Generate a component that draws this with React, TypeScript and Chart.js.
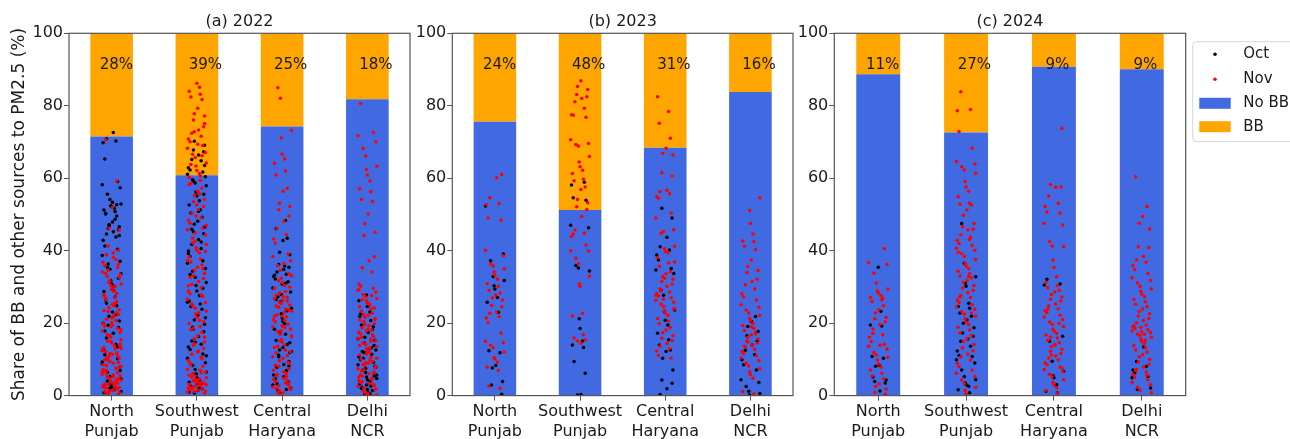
import React, { useEffect, useRef } from 'react';
import { Chart, registerables } from 'chart.js';

Chart.register(...registerables);

// ---------------- DATA ----------------
const regions = [['North', 'Punjab'], ['Southwest', 'Punjab'], ['Central', 'Haryana'], ['Delhi', 'NCR']];
const panelTitles = ['(a) 2022', '(b) 2023', '(c) 2024'];
const yTickValues = [0, 20, 40, 60, 80, 100];

const noBB2022 = [71.5, 60.8, 74.3, 81.8];
const bb2022 = [28.5, 39.2, 25.7, 18.2];
const noBB2023 = [75.6, 51.2, 68.4, 83.8];
const bb2023 = [24.4, 48.8, 31.6, 16.2];
const noBB2024 = [88.7, 72.6, 90.8, 90.1];
const bb2024 = [11.3, 27.4, 9.2, 9.9];

const bbLabels2022 = ['28%', '39%', '25%', '18%'];
const bbLabels2023 = ['24%', '48%', '31%', '16%'];
const bbLabels2024 = ['11%', '27%', '9%', '9%'];

// daily shares (%) per region: [North Punjab, Southwest Punjab, Central Haryana, Delhi NCR]
const oct2022 = [
  [72.6, 70.9, 70.3, 69.8, 65.3, 59.1, 58.2, 57.4, 55.6, 54.1, 52.9, 52.4, 52.1, 51.7, 51.2, 50.8, 50.3, 49.6, 47.9, 47.2, 46.6, 46.1, 45.8, 45.2, 44.6, 43.8, 42.9, 41.3, 40.4, 38.7, 37.1, 35.4, 34.9, 33.6, 31.8, 30.9, 30.2, 28.7, 27.2, 26.4, 24.8, 23.1, 21.9, 20.6, 19.4, 18.8, 17.2, 15.9, 14.1, 12.8, 11.3, 10.2, 8.7, 7.9, 6.4, 5.3, 4.6, 3.1, 2.4, 1.6, 0.8, 48.7, 50.1, 52.7, 53.4, 46.9, 44.2, 36.3, 32.4, 29.1, 25.5, 22.3, 20.0, 17.8, 13.5, 9.3, 6.9, 4.0, 2.0, 1.1],
  [70.2, 69.1, 67.8, 67.3, 66.4, 65.2, 64.8, 62.9, 62.3, 61.7, 61.1, 60.4, 59.6, 58.7, 57.9, 56.2, 55.1, 53.8, 52.6, 51.3, 50.4, 49.2, 48.1, 47.3, 46.5, 45.2, 44.7, 43.1, 41.8, 40.6, 39.9, 38.4, 37.2, 36.5, 35.1, 34.3, 32.7, 31.2, 30.4, 28.9, 27.6, 26.1, 25.3, 24.6, 23.8, 22.2, 20.9, 19.7, 18.4, 17.6, 16.3, 15.1, 14.2, 13.4, 12.7, 11.5, 10.3, 9.1, 8.4, 7.2, 6.5, 5.8, 4.9, 4.3, 3.7, 3.1, 2.6, 1.9, 1.4, 0.7, 63.5, 59.2, 55.6, 50.9, 45.9, 42.4, 39.2, 33.4, 29.6, 25.8, 21.5, 18.9, 14.7, 11.0, 6.0, 3.4, 2.2, 1.0],
  [48.3, 46.1, 43.4, 42.8, 39.6, 38.9, 36.2, 35.4, 34.8, 34.1, 33.5, 32.9, 32.2, 31.4, 29.7, 28.6, 27.3, 25.9, 24.1, 22.6, 21.4, 19.8, 18.3, 16.9, 15.2, 14.1, 13.3, 12.6, 11.9, 10.7, 9.4, 8.6, 7.8, 6.9, 5.7, 4.6, 3.8, 2.9, 2.1, 1.4, 0.6, 12.2, 27.9, 30.8, 35.8, 33.2, 31.0, 26.5, 23.4, 20.5, 17.5, 14.6, 11.2, 8.2, 5.2, 3.3, 1.7],
  [27.8, 24.6, 23.1, 21.9, 20.7, 19.5, 18.2, 17.4, 16.1, 15.3, 14.6, 13.8, 12.9, 12.2, 11.4, 10.7, 9.9, 9.2, 8.5, 7.8, 7.1, 6.4, 5.7, 5.1, 4.4, 3.8, 3.2, 2.6, 2.0, 1.4, 0.8, 0.3, 8.1, 11.9, 5.4, 3.5, 2.3, 13.2, 26.2, 22.5, 19.0, 15.7, 12.6, 10.3, 7.5, 4.7, 2.9, 1.7, 0.5],
];
const nov2022 = [
  [70.6, 59.2, 51.9, 46.2, 45.7, 41.3, 40.1, 39.4, 38.9, 37.6, 36.8, 35.9, 35.3, 34.1, 33.4, 32.9, 31.7, 30.8, 30.4, 29.3, 28.8, 27.6, 27.1, 26.5, 25.9, 25.2, 24.3, 23.7, 23.2, 22.4, 21.8, 21.1, 20.7, 19.8, 19.2, 18.6, 17.9, 17.5, 16.8, 16.3, 15.4, 14.9, 14.6, 13.9, 13.3, 12.9, 12.1, 11.8, 11.4, 10.8, 10.3, 9.7, 9.2, 8.9, 8.3, 7.6, 7.2, 6.8, 6.3, 5.9, 5.5, 5.1, 4.8, 4.3, 3.9, 3.6, 3.2, 2.9, 2.6, 2.2, 1.9, 1.5, 1.2, 0.9, 0.6, 0.3, 5.7, 6.9, 4.1, 2.7, 1.1, 3.4, 12.4, 14.2, 10.6, 9.4, 8.1, 16.1, 21.4, 24.8, 27.9, 30.1, 33.8, 22.9, 19.5, 1.4, 2.3, 3.0, 4.5, 5.2, 6.0, 7.4, 8.6, 9.9, 11.0, 12.6, 13.6, 15.1, 16.6, 18.2, 19.0, 20.1, 22.0, 23.5, 25.5, 26.9, 28.2, 29.7, 31.2, 32.5, 34.6, 36.2, 38.1, 0.7, 1.8, 2.4, 3.1, 4.6, 6.6, 7.9, 10.1, 11.6, 13.0],
  [86.2, 85.1, 84.0, 83.2, 82.4, 81.7, 79.3, 77.8, 77.2, 76.1, 74.2, 73.3, 72.4, 71.6, 70.8, 70.1, 69.0, 68.3, 67.1, 66.6, 65.7, 64.2, 63.4, 62.1, 61.3, 60.2, 59.4, 58.6, 57.3, 56.4, 55.2, 54.1, 53.5, 52.2, 51.4, 50.3, 49.1, 48.4, 47.6, 46.2, 45.8, 44.3, 43.5, 42.6, 41.7, 40.9, 40.1, 39.4, 38.3, 37.7, 36.9, 36.1, 35.4, 34.6, 33.8, 33.1, 32.3, 31.5, 30.7, 29.8, 28.9, 28.1, 27.4, 26.6, 25.7, 24.9, 24.1, 23.3, 22.5, 21.6, 20.8, 19.9, 19.1, 18.2, 17.4, 16.5, 15.7, 14.8, 13.9, 13.1, 12.3, 11.4, 10.6, 9.7, 8.9, 8.1, 7.3, 6.6, 6.1, 5.4, 4.9, 4.4, 3.9, 3.5, 3.1, 2.7, 2.3, 1.9, 1.5, 1.1, 0.7, 4.2, 3.3, 2.9, 5.1, 6.3, 2.1, 1.7, 3.7, 0.9, 1.3, 2.0, 2.5, 3.0, 3.6, 4.1, 4.6, 5.6, 7.0, 8.5, 10.2, 12.0, 14.4, 16.1, 18.6, 20.4, 22.9, 25.3, 27.8, 30.3, 32.7, 35.0, 37.3, 39.8, 42.2, 44.9, 47.0, 49.6, 52.7, 55.7, 58.2, 60.7, 63.8, 66.2, 69.4, 72.8, 75.1],
  [85.0, 82.1, 73.2, 71.1, 66.6, 65.3, 64.1, 62.0, 60.9, 57.2, 56.4, 53.1, 52.2, 51.3, 49.6, 48.1, 46.2, 44.4, 43.2, 42.1, 39.1, 38.4, 37.2, 35.9, 34.6, 33.1, 32.4, 31.2, 30.3, 29.6, 28.7, 27.8, 27.1, 26.4, 25.7, 25.0, 24.4, 23.6, 22.9, 22.3, 21.7, 21.0, 20.4, 19.7, 19.0, 18.3, 17.6, 16.9, 16.2, 15.5, 14.8, 14.0, 13.3, 12.5, 11.8, 11.1, 10.3, 9.6, 8.8, 8.1, 7.4, 6.6, 5.9, 5.2, 4.5, 3.8, 3.1, 2.4, 1.7, 1.0, 0.4, 23.3, 25.4, 21.9, 18.8, 26.8, 3.5, 2.0, 4.1, 0.8, 1.3, 2.2, 2.7, 3.3, 4.8, 5.5, 6.2, 7.0, 8.4, 9.2, 10.7, 12.1, 13.6, 15.1, 16.5, 17.9, 19.3, 20.7, 22.0, 23.9, 24.7, 26.1, 27.4, 28.3, 29.9, 31.7, 33.6, 36.4],
  [80.6, 72.6, 71.7, 70.1, 68.2, 66.1, 63.3, 62.4, 60.9, 59.2, 57.1, 56.3, 54.1, 53.6, 50.1, 47.4, 45.1, 44.2, 38.3, 37.2, 35.3, 34.1, 30.8, 30.2, 29.6, 29.1, 28.5, 27.9, 27.3, 26.8, 26.2, 25.6, 25.0, 24.5, 23.9, 23.3, 22.7, 22.2, 21.6, 21.0, 20.4, 19.8, 19.3, 18.7, 18.1, 17.5, 17.0, 16.4, 15.8, 15.2, 14.6, 14.1, 13.5, 12.9, 12.3, 11.8, 11.2, 10.6, 10.0, 9.4, 8.9, 8.3, 7.7, 7.1, 6.5, 6.0, 5.4, 4.8, 4.2, 3.6, 3.1, 2.5, 1.9, 1.3, 0.7, 0.2, 17.8, 12.7, 9.7, 20.9, 15.5, 6.8, 4.6, 0.5, 1.0, 1.6, 2.2, 2.8, 3.4, 3.9, 4.5, 5.1, 5.7, 6.3, 7.4, 8.0, 8.6, 9.1, 10.3, 11.5, 12.0, 13.2, 13.8, 14.9, 16.1, 16.7, 18.4, 19.6, 21.3, 22.4, 24.2, 25.3, 26.5, 27.6, 29.3],
];
const oct2023 = [
  [52.3, 39.1, 37.2, 32.9, 31.8, 30.3, 29.4, 27.1, 25.8, 23.0, 12.4, 11.8, 8.3, 7.6, 3.9, 2.9, 0.4],
  [58.9, 58.1, 54.6, 53.9, 47.0, 46.3, 35.9, 35.2, 34.4, 21.2, 18.5, 15.1, 14.0, 13.3, 9.4, 6.2, 0.3, 0.2],
  [51.7, 49.0, 43.7, 41.1, 40.2, 38.8, 37.4, 35.1, 34.7, 33.7, 29.1, 27.7, 23.6, 23.2, 20.8, 19.5, 17.2, 15.4, 14.0, 12.6, 12.2, 10.3, 7.1, 4.3, 3.4, 1.9, 0.3],
  [21.8, 20.5, 19.1, 17.7, 16.5, 15.0, 14.0, 12.5, 11.3, 9.9, 8.5, 7.1, 4.4, 3.6, 2.5, 1.2, 0.6, 0.2],
];
const nov2023 = [
  [61.0, 60.1, 54.6, 53.0, 52.7, 49.0, 48.4, 40.1, 38.6, 36.4, 35.8, 35.0, 34.1, 33.2, 32.1, 30.9, 30.2, 29.0, 28.3, 27.8, 27.0, 26.4, 24.9, 24.5, 23.1, 22.7, 21.8, 21.4, 20.2, 17.3, 15.0, 14.6, 13.9, 13.2, 12.0, 10.5, 10.1, 9.3, 7.8, 6.9, 2.6, 2.0],
  [86.9, 85.3, 84.5, 83.1, 82.5, 82.0, 81.1, 79.3, 77.5, 77.4, 76.8, 70.6, 69.6, 69.3, 68.9, 66.0, 64.5, 63.2, 62.2, 61.3, 59.7, 59.3, 57.6, 56.9, 54.1, 53.2, 52.1, 51.4, 49.4, 45.7, 44.8, 43.9, 44.6, 41.6, 40.0, 39.9, 37.9, 36.4, 33.0, 30.9, 30.2, 22.7, 22.0, 16.8, 15.9, 15.4, 14.5, 15.1],
  [82.5, 78.4, 75.2, 71.0, 68.3, 66.9, 66.4, 61.5, 60.6, 56.7, 56.3, 55.7, 54.9, 54.5, 50.4, 49.0, 45.8, 44.8, 45.3, 41.2, 40.6, 39.8, 39.4, 38.1, 36.6, 35.7, 34.2, 33.6, 32.9, 32.1, 31.5, 30.8, 30.2, 29.4, 28.6, 28.1, 27.5, 27.0, 26.3, 25.8, 25.2, 24.6, 24.0, 23.4, 22.8, 22.1, 21.3, 20.6, 19.9, 18.8, 18.1, 17.4, 16.6, 15.8, 15.2, 14.4, 13.7, 12.9, 12.3, 11.1, 10.4, 27.8, 23.9, 28.9, 26.6, 36.9, 32.4],
  [54.6, 51.1, 47.5, 44.6, 42.7, 42.5, 41.2, 40.3, 37.4, 35.6, 34.5, 34.0, 32.1, 31.5, 30.6, 29.4, 28.1, 27.3, 26.4, 25.1, 24.4, 23.6, 22.8, 22.1, 21.3, 20.7, 19.9, 19.3, 18.6, 18.0, 17.4, 16.8, 16.2, 15.6, 15.1, 14.5, 13.9, 13.4, 12.8, 12.2, 11.6, 11.0, 10.4, 9.7, 8.9, 8.2, 7.4, 6.6, 5.8, 4.8, 1.1, 0.5, 13.6, 17.1, 19.0, 14.8],
];
const oct2024 = [
  [35.4, 23.3, 19.5, 19.2, 10.8, 10.3, 8.4, 8.1, 4.3, 3.9, 3.5, 1.3, 5.1],
  [47.5, 36.5, 32.8, 31.0, 30.2, 25.5, 24.6, 24.1, 22.8, 21.9, 20.9, 20.0, 18.7, 17.3, 16.4, 15.6, 15.0, 13.6, 12.3, 11.1, 10.8, 9.9, 9.0, 7.1, 5.3, 4.4, 3.5, 3.0, 2.6, 1.6, 0.8],
  [32.1, 30.8, 30.5, 16.4, 15.0, 9.5, 6.7, 5.5, 4.9, 3.0, 1.2, 0.7],
  [13.4, 9.4, 8.0, 7.1, 6.3, 5.3, 4.9, 2.1, 1.7],
];
const nov2024 = [
  [40.6, 36.7, 36.2, 33.8, 31.1, 29.4, 28.9, 28.3, 27.6, 27.1, 26.4, 26.0, 24.8, 23.7, 22.9, 21.6, 21.2, 20.4, 19.6, 17.2, 16.8, 16.1, 14.9, 14.2, 13.6, 12.8, 11.9, 11.3, 10.6, 9.8, 8.7, 7.9, 7.1, 6.2, 5.4, 4.6, 3.2, 2.5, 1.8, 0.9, 0.4, 13.9, 18.4, 26.9],
  [83.9, 79.0, 78.6, 72.9, 68.3, 64.6, 63.9, 63.2, 62.3, 61.4, 59.1, 57.6, 56.4, 54.9, 53.1, 52.8, 52.6, 51.2, 49.8, 47.5, 46.6, 45.9, 45.7, 44.4, 43.8, 42.9, 42.0, 41.4, 40.7, 40.1, 39.2, 38.4, 37.6, 36.5, 35.8, 35.1, 34.3, 33.6, 33.0, 32.5, 31.8, 31.2, 30.4, 29.7, 29.1, 28.4, 27.7, 27.1, 26.4, 25.8, 25.1, 24.5, 23.8, 23.2, 22.5, 21.9, 21.2, 20.4, 19.6, 18.9, 18.1, 17.3, 16.5, 15.7, 14.9, 14.1, 13.2, 12.4, 11.5, 10.7, 9.8, 8.9, 8.0, 7.1, 6.2, 5.3, 4.3, 3.3, 2.3, 1.4, 0.5, 32.9, 39.6, 43.1, 27.2, 22.8],
  [73.8, 58.3, 57.6, 57.5, 55.1, 53.1, 52.2, 50.7, 50.3, 47.5, 47.1, 42.5, 41.3, 41.1, 37.4, 35.4, 32.8, 31.2, 30.4, 29.8, 29.1, 28.6, 27.9, 27.2, 26.6, 26.1, 25.3, 24.7, 24.0, 23.4, 22.9, 22.2, 21.7, 21.0, 20.3, 19.7, 19.1, 18.4, 17.8, 17.2, 16.7, 15.9, 15.3, 14.6, 14.1, 13.5, 12.8, 12.2, 11.6, 10.9, 10.3, 9.8, 9.1, 8.5, 7.9, 7.2, 6.6, 5.9, 5.2, 4.4, 3.7, 2.9, 2.2, 1.4, 0.6, 23.8, 19.9, 13.9, 11.2, 7.6, 16.2],
  [60.4, 52.2, 49.4, 47.6, 46.0, 41.1, 40.8, 38.4, 37.4, 36.8, 35.9, 34.8, 33.7, 32.5, 31.8, 31.1, 30.2, 29.4, 28.8, 28.0, 27.3, 26.5, 25.9, 25.2, 24.6, 23.9, 23.2, 22.6, 22.0, 21.3, 20.7, 20.1, 19.5, 19.0, 18.6, 18.2, 17.8, 17.4, 17.0, 16.6, 16.1, 15.6, 15.0, 14.4, 13.8, 13.2, 12.6, 12.0, 11.3, 10.7, 10.0, 9.3, 8.6, 7.9, 7.2, 6.5, 5.8, 5.1, 4.4, 3.7, 3.0, 2.3, 1.5, 0.8, 18.8, 17.6, 16.9, 19.2, 15.3, 6.9, 5.6],
];

// ---------------- STYLE ----------------
const FONT = '"DejaVu Sans", sans-serif';
const TEXT = '#1a1a1a';
const BLUE = '#4169E1';
const ORANGE = '#FFA500';
const AXIS_COLOR = '#555555';
const H = 452;
const AXIS_BOTTOM = 395.6;
const LABEL_Y = 91.3;
const LABEL_DX = [-0.14, -0.095, -0.095, -0.095];
const POINT_R = 1.75;
// strip-plot horizontal spread (in category units), cycled
const JITTER = [0.02, -0.09, 0.07, -0.03, 0.11, -0.06, 0.04, -0.11, 0.09, -0.01, 0.05, -0.07, 0.1, -0.04, 0.0, -0.1, 0.06, -0.05, 0.08, 0.03, -0.08, 0.01, -0.02];

const layouts = [
  { left: 0, width: 414, yW: 69, padR: 3, yTitle: true, legend: false },
  { left: 411, width: 386, yW: 41.3, padR: 3.7, yTitle: false, legend: false },
  { left: 795, width: 495, yW: 39.3, padR: 104.3, yTitle: false, legend: true },
];

const panels = [
  { title: panelTitles[0], noBB: noBB2022, bb: bb2022, labels: bbLabels2022, oct: oct2022, nov: nov2022 },
  { title: panelTitles[1], noBB: noBB2023, bb: bb2023, labels: bbLabels2023, oct: oct2023, nov: nov2023 },
  { title: panelTitles[2], noBB: noBB2024, bb: bb2024, labels: bbLabels2024, oct: oct2024, nov: nov2024 },
];

function toPoints(groups: number[][], shift: number) {
  const pts: { x: number; y: number }[] = [];
  groups.forEach((vals, ci) => {
    vals.forEach((v, j) => {
      pts.push({ x: ci + JITTER[(j * 5 + ci * 3 + shift) % JITTER.length], y: v });
    });
  });
  return pts;
}

const boxPlugin = {
  id: 'box',
  afterDatasetsDraw(chart: any) {
    const { ctx, chartArea } = chart;
    ctx.save();
    ctx.strokeStyle = AXIS_COLOR;
    ctx.lineWidth = 1.2;
    ctx.strokeRect(chartArea.left, chartArea.top, chartArea.right - chartArea.left, chartArea.bottom - chartArea.top);
    ctx.restore();
  },
};

function makeLabelPlugin(labels: string[]) {
  return {
    id: 'bbLabels',
    afterDatasetsDraw(chart: any) {
      const { ctx } = chart;
      const xs = chart.scales.x;
      const ys = chart.scales.y;
      const step = xs.getPixelForValue(1) - xs.getPixelForValue(0);
      ctx.save();
      ctx.font = `15px ${FONT}`;
      ctx.fillStyle = TEXT;
      ctx.textAlign = 'left';
      ctx.textBaseline = 'middle';
      labels.forEach((t, i) => {
        ctx.fillText(t, xs.getPixelForValue(i) + LABEL_DX[i] * step, ys.getPixelForValue(LABEL_Y));
      });
      ctx.restore();
    },
  };
}

function makeLegendPlugin(canvasLeft: number) {
  return {
    id: 'customLegend',
    afterDraw(chart: any) {
      const { ctx } = chart;
      const bx = 1192.7 - canvasLeft;
      ctx.save();
      ctx.beginPath();
      ctx.roundRect(bx, 41.7, 140, 100, 4);
      ctx.fillStyle = 'rgba(255,255,255,0.8)';
      ctx.fill();
      ctx.strokeStyle = '#d6d6d6';
      ctx.lineWidth = 1;
      ctx.stroke();
      const items = chart.data.datasets.map((d: any) => d.label);
      const rows = [
        { label: items[2], kind: 'dot', color: '#000000', y: 54.3 },
        { label: items[3], kind: 'dot', color: '#ff0000', y: 79.3 },
        { label: items[0], kind: 'box', color: BLUE, y: 103.3 },
        { label: items[1], kind: 'box', color: ORANGE, y: 126.7 },
      ];
      ctx.font = `15px ${FONT}`;
      ctx.textAlign = 'left';
      ctx.textBaseline = 'middle';
      rows.forEach((r) => {
        ctx.fillStyle = r.color;
        if (r.kind === 'dot') {
          ctx.beginPath();
          ctx.arc(1215 - canvasLeft, r.y, POINT_R, 0, Math.PI * 2);
          ctx.fill();
        } else {
          ctx.fillRect(1199.3 - canvasLeft, r.y - 5.5, 31.4, 11);
        }
        ctx.fillStyle = TEXT;
        ctx.fillText(r.label, 1243.3 - canvasLeft, r.y);
      });
      ctx.restore();
    },
  };
}

function makeChart(canvas: HTMLCanvasElement, p: any, l: any, k: number) {
  const tickFont = { family: FONT, size: 16, lineHeight: 1.2 };
  const plugins: any[] = [boxPlugin, makeLabelPlugin(p.labels)];
  if (l.legend) plugins.push(makeLegendPlugin(l.left));
  return new Chart(canvas, {
    type: 'bar',
    data: {
      labels: regions as any,
      datasets: [
        { label: 'No BB', data: p.noBB, backgroundColor: BLUE, stack: 's', order: 3, grouped: false, barPercentage: 0.5, categoryPercentage: 1, xAxisID: 'x', yAxisID: 'y' } as any,
        { label: 'BB', data: p.bb, backgroundColor: ORANGE, stack: 's', order: 3, grouped: false, barPercentage: 0.5, categoryPercentage: 1, xAxisID: 'x', yAxisID: 'y' } as any,
        { type: 'scatter', label: 'Oct', data: toPoints(p.oct, k * 7), backgroundColor: '#000000', borderWidth: 0, pointRadius: POINT_R, xAxisID: 'x2', yAxisID: 'y2', order: 2 } as any,
        { type: 'scatter', label: 'Nov', data: toPoints(p.nov, k * 7 + 11), backgroundColor: '#ff0000', borderWidth: 0, pointRadius: POINT_R, xAxisID: 'x2', yAxisID: 'y2', order: 1 } as any,
      ],
    },
    options: {
      responsive: false,
      animation: false,
      devicePixelRatio: 1,
      layout: { padding: { left: 0, right: l.padR, top: 0, bottom: 0 } },
      plugins: {
        legend: { display: false },
        tooltip: { enabled: false },
        title: {
          display: true,
          text: p.title,
          fullSize: false,
          color: TEXT,
          font: { family: FONT, size: 16, weight: 'normal', lineHeight: 1.2 },
          padding: { top: 12, bottom: 2.1 },
        },
      },
      scales: {
        x: {
          type: 'category',
          stacked: true,
          offset: true,
          border: { display: false },
          grid: { display: true, drawOnChartArea: false, offset: false, tickLength: 5, color: AXIS_COLOR, tickColor: AXIS_COLOR, tickWidth: 1 },
          ticks: { font: tickFont, color: TEXT, padding: 2, maxRotation: 0, minRotation: 0, autoSkip: false },
          afterFit: (s: any) => { s.height = H - AXIS_BOTTOM; },
        },
        y: {
          stacked: true,
          min: 0,
          max: 100,
          border: { display: false },
          grid: { display: true, drawOnChartArea: false, tickLength: 5, color: AXIS_COLOR, tickColor: AXIS_COLOR, tickWidth: 1 },
          ticks: { font: tickFont, color: TEXT, padding: 1, stepSize: 20, callback: (v: any) => (yTickValues.includes(v) ? String(v) : '') },
          title: {
            display: l.yTitle,
            text: 'Share of BB and other sources to PM2.5 (%)',
            color: TEXT,
            font: { family: FONT, size: 17, lineHeight: 1.2 },
            padding: { top: 9, bottom: 0 },
          },
          afterFit: (s: any) => { s.width = l.yW; },
        },
        x2: { type: 'linear', min: -0.5, max: 3.5, offset: false, display: false, grid: { offset: false } },
        y2: { type: 'linear', min: 0, max: 100, display: false },
      },
    } as any,
    plugins,
  });
}

export default function App() {
  const r0 = useRef<HTMLCanvasElement>(null);
  const r1 = useRef<HTMLCanvasElement>(null);
  const r2 = useRef<HTMLCanvasElement>(null);
  const refs = [r0, r1, r2];
  useEffect(() => {
    const charts = panels.map((p, k) => makeChart(refs[k].current as HTMLCanvasElement, p, layouts[k], k));
    return () => charts.forEach((c) => c.destroy());
  }, []);
  return (
    <div style={{ position: 'fixed', left: 0, top: 0, width: 1290, height: 439, overflow: 'hidden', background: '#ffffff' }}>
      {layouts.map((l, k) => (
        <canvas
          key={k}
          ref={refs[k]}
          width={l.width}
          height={H}
          style={{ position: 'absolute', left: l.left, top: 0, width: l.width, height: H }}
        />
      ))}
    </div>
  );
}
